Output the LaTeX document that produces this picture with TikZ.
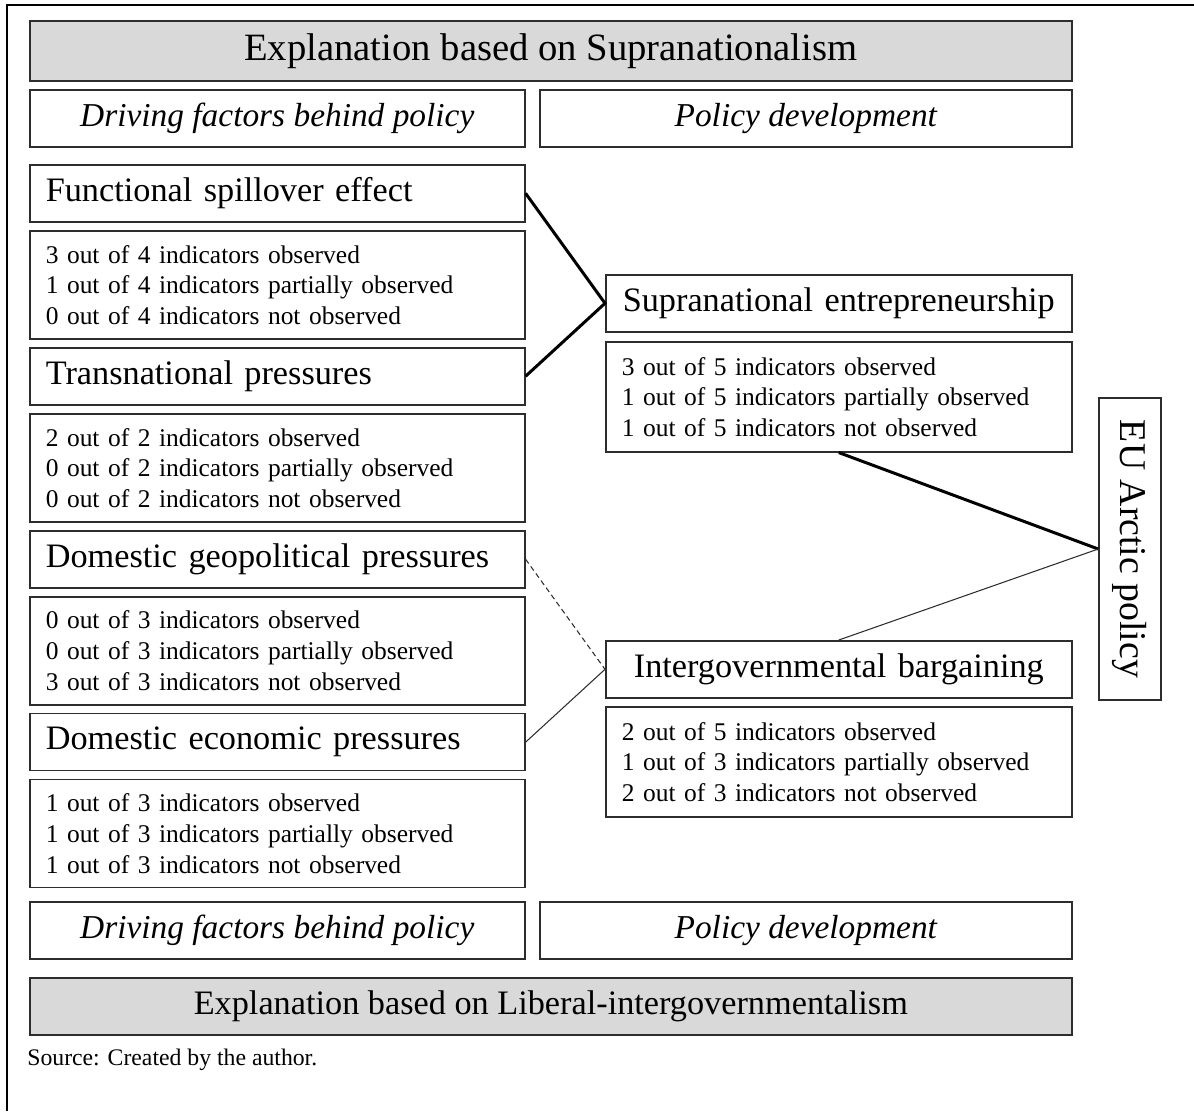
\documentclass[tikz,border=0pt]{standalone}
\usepackage{fontspec}
\setmainfont{Liberation Serif}
\usepackage{tikz}
\usetikzlibrary{positioning}
\definecolor{mygray}{RGB}{217,217,217}
\definecolor{myline}{RGB}{45,45,45}

\tikzset{
  box/.style={draw=myline, line width=0.9pt, rectangle, inner xsep=0.32cm, inner ysep=0pt},
  titlebox/.style={box, fill=mygray, minimum width=20.84cm},
  colbox/.style={box, minimum height=1.14cm, font=\fontsize{19}{23}\selectfont\itshape},
  headbox/.style={box, minimum height=1.14cm, text width=9.26cm, align=left, font=\fontsize{19.5}{23}\selectfont},
  countbox/.style={box, minimum height=2.16cm, text width=9.26cm, align=left, font=\fontsize{14.5}{17.4}\selectfont},
  rhead/.style={headbox, text width=8.68cm, align=center},
  rcount/.style={countbox, text width=8.68cm, minimum height=2.2cm},
  strong/.style={line width=1.7pt},
  weak/.style={line width=0.6pt, draw=myline}
}

\begin{document}
\begin{tikzpicture}[node distance=0.148cm]
  \useasboundingbox (0,0) rectangle (23.88,-22.22);
  \draw[line width=1.7pt] (23.88,-0.1) -- (0.14,-0.1) -- (0.14,-22.22);

  \node[titlebox, anchor=north west, minimum height=1.2cm, font=\fontsize{22}{26}\selectfont] (sup) at (0.58,-0.4) {Explanation based on Supranationalism};
  \node[colbox, anchor=north west, minimum width=9.9cm] (drv1) at (0.58,-1.78) {Driving factors behind policy};
  \node[colbox, anchor=north west, minimum width=10.64cm] (dev1) at (10.78,-1.78) {Policy development};

  % Driving factors
  \node[headbox, anchor=north west] (f1) at (0.58,-3.28) {Functional spillover effect};
  \node[countbox, below=of f1] (c1) {3 out of 4 indicators observed\\1 out of 4 indicators partially observed\\0 out of 4 indicators not observed};
  \node[headbox, below=of c1] (f2) {Transnational pressures};
  \node[countbox, below=of f2] (c2) {2 out of 2 indicators observed\\0 out of 2 indicators partially observed\\0 out of 2 indicators not observed};
  \node[headbox, below=of c2] (f3) {Domestic geopolitical pressures};
  \node[countbox, below=of f3] (c3) {0 out of 3 indicators observed\\0 out of 3 indicators partially observed\\3 out of 3 indicators not observed};
  \node[headbox, below=of c3] (f4) {Domestic economic pressures};
  \node[countbox, below=of f4] (c4) {1 out of 3 indicators observed\\1 out of 3 indicators partially observed\\1 out of 3 indicators not observed};

  % Policy development
  \node[rhead, anchor=north west] (se) at (12.1,-5.48) {Supranational entrepreneurship};
  \node[rcount, below=0.168cm of se] (cse) {3 out of 5 indicators observed\\1 out of 5 indicators partially observed\\1 out of 5 indicators not observed};
  \node[rhead, anchor=north west] (ib) at (12.1,-12.8) {Intergovernmental bargaining};
  \node[rcount, below=of ib] (cib) {2 out of 5 indicators observed\\1 out of 3 indicators partially observed\\2 out of 3 indicators not observed};

  \node[box, rotate=-90, minimum width=6.04cm, minimum height=1.24cm, font=\fontsize{21.5}{25}\selectfont] (eu) at (22.6,-10.98) {EU Arctic policy};

  \node[colbox, anchor=north west, minimum width=9.9cm] (drv2) at (0.58,-18.02) {Driving factors behind policy};
  \node[colbox, anchor=north west, minimum width=10.64cm] (dev2) at (10.78,-18.02) {Policy development};
  \node[titlebox, anchor=north west, minimum height=1.14cm, font=\fontsize{19.5}{23}\selectfont] (lib) at (0.58,-19.54) {Explanation based on Liberal-intergovernmentalism};
  \node[anchor=base west, inner sep=0pt, font=\fontsize{13.5}{16}\selectfont] (src) at (0.54,-21.3) {Source: Created by the author.};

  % Links
  \draw[strong] (f1.east) -- (se.west) -- (f2.east);
  \draw[weak, dash pattern=on 3pt off 2pt] (f3.east) -- (ib.west);
  \draw[weak] (f4.east) -- (ib.west);
  \draw[strong] (cse.south) -- (eu.south);
  \draw[weak] (ib.north) -- (eu.south);
\end{tikzpicture}
\end{document}
